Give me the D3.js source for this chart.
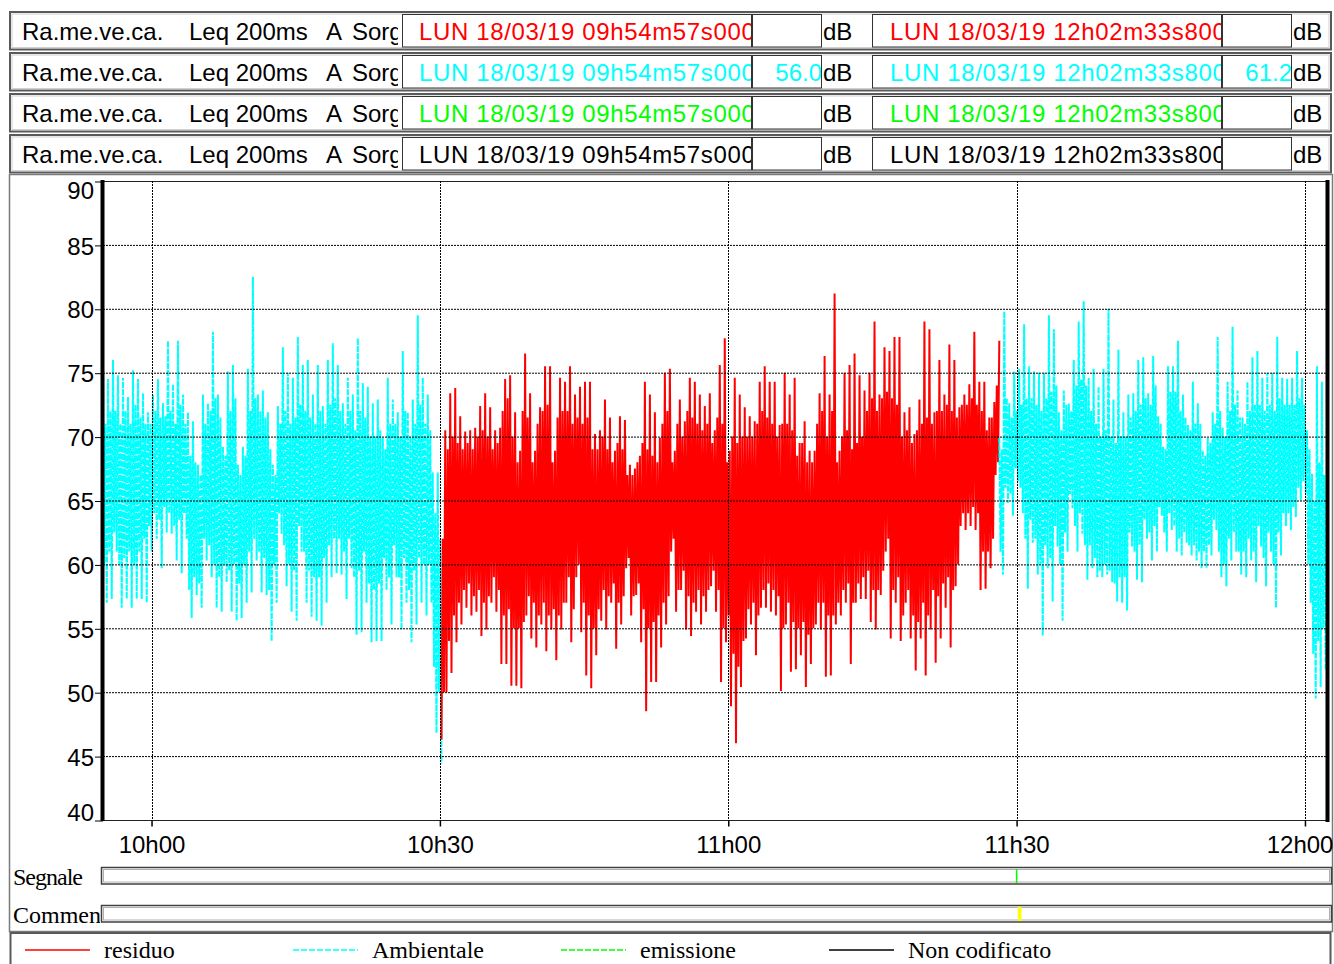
<!DOCTYPE html>
<html><head><meta charset="utf-8">
<script src="https://cdn.jsdelivr.net/npm/d3@7"></script>
<style>body{margin:0;background:#fff} svg{display:block}</style>
</head><body><svg id="c" width="1334" height="964"></svg>
<script>
// ---------- DATA ----------
const recordStart = "09:54:57.000";
const recordEnd = "12:02:33.800";
const headerLabelParts = ["Ra.me.ve.ca.", "Leq 200ms", "A", "Sorg"];
const headerStartText = "LUN 18/03/19 09h54m57s000";
const headerEndText = "LUN 18/03/19 12h02m33s800";
const seriesNames = ["residuo", "Ambientale", "emissione", "Non codificato"];
const seriesColors = ["#ff0000", "#00ffff", "#00ff00", "#000000"];
const headerStartValues = ["", "56.0", "", ""];
const headerEndValues = ["", "61.2", "", ""];
const yTicks = [40, 45, 50, 55, 60, 65, 70, 75, 80, 85, 90];
const xTickTimes = ["10:00:00.000", "10:30:00.000", "11:00:00.000", "11:30:00.000", "12:00:00.000"];
const xTickLabels = ["10h00", "10h30", "11h00", "11h30", "12h00"];
const bandLabels = ["Segnale", "Commento"];
const signalMarks = ["11:30:00.000"];
const commentMarks = [["11:30:07.000", "11:30:30.000"]];

// Ambientale (first part): per interval [peak, trough]
const ambientale1Range = ["09:54:57.000", "10:30:10.000"];
const ambientale1 = [75.8,57.0, 74.5,57.3, 76.0,61.0, 74.8,56.6, 74.6,57.3, 73.1,56.6, 75.2,57.3, 74.5,57.3, 73.4,57.0, 71.9,61.0,
 73.3,62.0, 74.5,59.7, 72.6,62.5, 77.5,62.4, 74.1,60.3, 77.5,59.3, 73.3,62.0, 71.9,55.8, 71.2,57.6, 67.8,56.6,
 73.3,60.3, 72.6,59.0, 78.2,56.6, 73.3,56.3, 69.2,58.6, 75.1,56.3, 75.6,55.6, 67.8,55.8, 69.2,57.0, 75.3,57.8,
 82.5,60.3, 73.3,57.8, 73.6,57.6, 71.9,54.0, 67.8,57.0, 72.4,62.4, 77.0,58.3, 75.0,56.3, 74.6,55.6, 77.8,61.0,
 75.6,57.0, 76.0,55.9, 73.3,55.6, 75.6,55.2, 72.4,57.0, 76.0,59.0, 77.3,59.3, 75.6,59.2, 72.6,57.3, 74.6,59.7,
 73.3,54.5, 77.7,54.7, 74.2,57.0, 73.9,53.9, 72.6,54.0, 72.9,54.0, 69.9,58.0, 74.6,55.3, 72.9,59.0, 71.9,54.9,
 76.7,57.0, 71.9,53.9, 72.9,55.3, 79.5,57.0, 74.6,56.0, 73.3,57.0, 67.2,46.8, 67.2,44.4];
// dense core of the same intervals: [upper core, lower core]
const ambientale1Core = [71,60, 72,61, 72,62.5, 71,60, 72,60.5, 71,61, 72.5,60, 71.5,61, 71,62, 71,63,
 72,64, 71.5,63.5, 71.6,64.5, 72,64, 71,63, 72.5,63.5, 71,64, 68.5,58, 68,59, 67,58.5,
 71,62, 72,61.5, 73,60, 71.5,59, 68.5,60, 72,59.5, 73,60, 67,58.5, 68.5,60, 72,61,
 73,62, 72,61, 71.5,60.5, 69,58, 67,60, 71,64, 72,61.5, 71,60, 71.5,59.5, 72.5,63,
 72,61, 71.5,59.5, 71,59, 72,59, 71,60.5, 72.5,61.5, 73,62, 72,62, 71,61, 72,62,
 70.5,59, 72,59.5, 71.5,61, 70,58.5, 70,58, 70.5,58.5, 69,60.5, 71,59, 71,61.5, 70,59,
 72,60.5, 70,58, 71,59.5, 72.5,60.5, 71,60, 70.5,60, 64,52, 62,50];

// Residuo: per interval [trough, peak]
const residuoRange = ["10:30:10.000", "11:28:12.000"];
const residuo = [46.3,70.5, 50.0,73.4, 51.5,73.8, 53.9,71.6, 55.3,70.4, 56.6,70.5, 56.0,70.7, 56.3,72.4, 54.4,73.4, 54.9,72.3,
 57.0,70.5, 56.3,70.7, 52.2,74.5, 52.2,74.8, 50.5,71.9, 50.5,68.9, 50.3,76.5, 56.0,73.4, 54.2,68.9, 53.5,72.3,
 55.3,75.5, 53.2,75.5, 54.9,68.9, 52.5,74.6, 54.9,74.3, 57.0,75.5, 53.9,73.3, 59.0,73.9, 54.7,74.3, 51.3,74.3,
 50.3,70.2, 52.9,70.5, 55.6,72.9, 54.9,71.5, 57.0,68.9, 53.4,71.6, 55.3,71.3, 59.7,67.8, 56.0,67.5, 57.6,68.5,
 53.9,74.3, 48.5,73.3, 50.8,71.9, 50.8,69.9, 53.5,75.0, 55.3,75.3, 61.0,68.9, 56.3,72.9, 58.0,71.2, 54.9,74.6,
 54.4,74.3, 56.3,73.3, 55.3,72.4, 56.3,73.4, 58.3,70.5, 56.3,75.6, 50.8,77.7, 53.9,68.9, 48.9,74.6, 46.0,73.3,
 50.4,72.3, 54.2,71.6, 55.3,71.2, 52.9,74.3, 56.6,75.5, 56.6,74.3, 56.3,74.3, 56.0,70.9, 50.1,75.0, 55.3,73.3,
 51.6,74.6, 51.8,69.5, 52.9,71.2, 50.4,68.9, 52.2,68.9, 55.3,73.4, 54.9,76.3, 51.2,73.3, 51.3,81.2, 55.3,68.9,
 56.0,75.0, 57.0,75.6, 52.2,76.5, 57.0,74.8, 57.3,73.6, 57.3,75.0, 55.5,79.0, 54.9,73.3, 57.6,77.0, 61.0,76.7,
 54.2,77.8, 57.0,77.8, 54.0,71.9, 57.0,72.3, 54.2,70.2, 51.7,72.9, 54.2,79.0, 51.3,78.4, 54.9,71.9, 52.3,76.0,
 54.2,73.3, 56.6,77.2, 53.5,76.0, 58.3,72.3, 63.0,73.3, 62.7,74.1, 63.0,78.2, 62.7,74.3, 58.0,74.3, 58.1,71.5,
 59.7,72.7, 67.0,77.5];
// dense core: [lower core, upper core]
const residuoCore = [50,62, 54,69, 56,70, 57,69.5, 58,69, 58.5,69.5, 57.5,69, 58,70, 57,70.5, 57.5,70,
 59,69, 58,69.5, 56,72, 56.5,73, 55,70, 55,68, 55.5,72, 57.5,71.5, 57,68, 56,71,
 57,72, 56,72.5, 56.5,68, 56,71.5, 57,72, 59,72, 56.5,71, 60,71.5, 57,71, 56,71.5,
 55,69, 56.5,69, 58,70, 57.5,69, 58.5,68, 57,69.5, 57.5,69, 60.5,67, 57.5,67, 58.5,68,
 56.5,69.5, 55,69, 55.5,68.5, 56,68, 57,71, 57.5,72, 62,68, 58,71, 59.5,70, 57.5,72,
 57,71.5, 58,71, 57.5,70.5, 58,71, 59.5,69.5, 58,71.5, 55,71, 56,68, 53,70, 52,69.5,
 54,70, 56.5,70, 57,70, 56,71, 58,72, 58.5,71.5, 58,71, 57.5,70, 55,71, 57,71,
 55.5,70.5, 55,68.5, 55.5,69.5, 54.5,68, 55,68, 57,71, 57,72, 56,70, 56,72, 57,68,
 58,70, 58.5,70.5, 57,69, 58.5,69.5, 59,70, 59.5,72, 58,73, 58,72, 59.5,73, 62,73.5,
 58,73, 59,72.5, 56,70, 58,70.5, 56,69.5, 55.5,70.5, 57,71, 56,71.5, 58,71, 57.5,72,
 58.5,72, 59,72.5, 58,72, 60,71.5, 64,72.5, 64,72.5, 64.5,73, 64,72.5, 61,72, 61,70.5,
 62,71.5, 68,74];

// Ambientale (second part): per interval [peak, trough]
const ambientale2Range = ["11:28:12.000", "12:02:09.000"];
const ambientale2 = [69.9,59.2, 79.8,64.8, 72.6,63.8, 75.1,66.5, 75.3,64.0, 78.8,58.1, 75.5,61.7, 75.1,59.2, 75.0,54.4, 75.0,59.7,
 79.5,57.1, 78.4,61.4, 71.9,55.6, 73.6,61.0, 72.6,64.4, 76.0,61.0, 79.0,62.4, 80.6,58.8, 74.6,59.7, 75.3,59.0,
 73.9,59.0, 75.3,59.2, 80.0,58.6, 72.9,57.1, 76.8,57.0, 71.9,56.4, 73.3,61.4, 73.4,58.8, 76.0,58.6, 76.2,62.0,
 73.4,60.3, 76.3,61.0, 71.6,63.8, 69.2,61.0, 75.5,62.7, 75.5,61.0, 77.5,60.7, 73.3,61.7, 70.9,60.7, 74.3,60.3,
 72.6,59.7, 68.9,59.7, 69.9,60.7, 71.9,62.7, 77.8,59.0, 70.7,58.3, 74.3,60.3, 78.6,61.0, 73.6,59.2, 71.5,59.0,
 74.3,60.3, 76.2,58.6, 76.7,61.4, 74.6,58.3, 75.0,61.0, 75.0,56.6, 77.8,60.7, 74.6,63.0, 74.5,62.7, 74.6,63.7,
 76.7,65.0, 74.6,65.6, 70.5,57.0, 67.1,49.5, 75.5,50.4, 74.3,51.8];
const ambientale2Core = [69,61, 73,66, 71.5,65.5, 72,67.5, 72.5,66, 73,62, 73,63.5, 72.5,62, 72,60, 73,61.5,
 73.5,60.5, 74,63, 70.5,60, 72.5,62.5, 72,65.5, 74,63, 74.5,64, 74,61.5, 72,61.5, 71,60.5,
 70,59.5, 70.5,60, 70,59.5, 69.5,58.5, 70,59, 70,59, 71.5,62.5, 72,61, 72.5,61.5, 73,63.5,
 72.5,62.5, 74,63, 71,64.5, 69,62.5, 73.5,64, 73.5,63, 72,62, 71.5,62.5, 70.5,61.5, 71,61.5,
 71,61, 68.5,61, 69.5,61.5, 71,63.5, 72,61, 70,60, 72,62, 72.5,62.5, 71.5,61, 71,61,
 72,62, 72.5,61, 72.5,63, 72,60.5, 72.5,62.5, 72,60, 73,62.5, 72.5,64, 72.5,64, 72.5,64.5,
 73,66, 72.5,66.5, 69,60, 65,53, 68,54, 67,55];

// ---------- HELPERS ----------
function t(s) {
  const [h, m, rest] = s.split(":");
  const [sec, ms] = rest.split(".");
  return new Date(2019, 2, 18, +h, +m, +sec, +ms);
}
// sequence inside each interval: outer[0], core[1], core[0], outer[1]
function weave(outer, core) {
  const out = [];
  for (let k = 0; k < outer.length; k += 2) out.push(outer[k], core[k + 1], core[k], outer[k + 1]);
  return out;
}
function buildSeries(range, values) {
  const t0 = +t(range[0]), t1 = +t(range[1]), n = values.length;
  return values.map((v, i) => ({ time: new Date(t0 + (t1 - t0) * i / (n - 1)), value: v }));
}

const SANS = "'Liberation Sans', Arial, sans-serif";
const SERIF = "'Liberation Serif', 'Times New Roman', serif";
const svg = d3.select("#c");
const defs = svg.append("defs");

// ---------- HEADER ----------
const clipDefs = [["clipLabel", 10, 388], ["clipStart", 403, 348], ["clipEnd", 873, 348], ["clipV1", 753, 68], ["clipV2", 1223, 68]];
clipDefs.forEach(([id, cx, cw]) => {
  defs.append("clipPath").attr("id", id).attr("clipPathUnits", "userSpaceOnUse")
    .append("rect").attr("x", cx).attr("y", 0).attr("width", cw).attr("height", 37);
});

seriesColors.forEach((col, i) => {
  const top = 12 + i * 41;
  const g = svg.append("g").attr("transform", `translate(0,${top})`);
  g.append("rect").attr("x", 10).attr("y", 0).attr("width", 1321).attr("height", 37.5)
    .attr("fill", "#fff").attr("stroke", "#5a5a5a").attr("stroke-width", 2);
  g.append("rect").attr("x", 12).attr("y", 2).attr("width", 1317).attr("height", 33.5)
    .attr("fill", "none").attr("stroke", "#d0d0d0").attr("stroke-width", 1);
  [[402.5, 349], [752.5, 69], [872.5, 349], [1222.5, 69]].forEach(([bx, bw]) => {
    g.append("rect").attr("x", bx).attr("y", 2.5).attr("width", bw).attr("height", 32.5)
      .attr("fill", "#fff").attr("stroke", "#333").attr("stroke-width", 1);
  });
  const lab = g.append("g").attr("clip-path", "url(#clipLabel)")
    .attr("font-family", SANS).attr("font-size", 24).attr("fill", "#000");
  [22, 189, 326, 352].forEach((px, k) => {
    lab.append("text").attr("x", px).attr("y", 28).text(headerLabelParts[k]);
  });
  g.append("text").attr("clip-path", "url(#clipStart)").attr("x", 419).attr("y", 28)
    .attr("font-family", SANS).attr("font-size", 24).attr("letter-spacing", 0.65).attr("fill", col).text(headerStartText);
  g.append("text").attr("clip-path", "url(#clipEnd)").attr("x", 890).attr("y", 28)
    .attr("font-family", SANS).attr("font-size", 24).attr("letter-spacing", 0.65).attr("fill", col).text(headerEndText);
  g.append("text").attr("clip-path", "url(#clipV1)").attr("x", 822).attr("y", 28).attr("text-anchor", "end")
    .attr("font-family", SANS).attr("font-size", 24).attr("fill", col).text(headerStartValues[i]);
  g.append("text").attr("clip-path", "url(#clipV2)").attr("x", 1292).attr("y", 28).attr("text-anchor", "end")
    .attr("font-family", SANS).attr("font-size", 24).attr("fill", col).text(headerEndValues[i]);
  g.append("text").attr("x", 823).attr("y", 28).attr("font-family", SANS).attr("font-size", 24).text("dB");
  g.append("text").attr("x", 1293).attr("y", 28).attr("font-family", SANS).attr("font-size", 24).text("dB");
});

// ---------- PANEL FRAME ----------
svg.append("rect").attr("x", 9.5).attr("y", 174.5).attr("width", 1323).attr("height", 757)
  .attr("fill", "none").attr("stroke", "#7a7a7a").attr("stroke-width", 1.5);

// ---------- SCALES ----------
const x = d3.scaleTime().domain([t(recordStart), t(recordEnd)]).range([103, 1329.6]);
const y = d3.scaleLinear().domain([40, 90]).range([820, 181]);
const line = d3.line().x(d => x(d.time)).y(d => y(d.value));

// ---------- DATA LINES ----------
const plot = svg.append("g");
plot.append("path").datum(buildSeries(ambientale1Range, weave(ambientale1, ambientale1Core))).attr("d", line)
  .attr("fill", "none").attr("stroke", seriesColors[1]).attr("stroke-width", 2).attr("stroke-dasharray", "6,1.2");
plot.append("path").datum(buildSeries(residuoRange, weave(residuo, residuoCore))).attr("d", line)
  .attr("fill", "none").attr("stroke", seriesColors[0]).attr("stroke-width", 2);
plot.append("path").datum(buildSeries(ambientale2Range, weave(ambientale2, ambientale2Core))).attr("d", line)
  .attr("fill", "none").attr("stroke", seriesColors[1]).attr("stroke-width", 2).attr("stroke-dasharray", "6,1.2");

// ---------- GRID ----------
const grid = svg.append("g");
yTicks.forEach(v => {
  const solid = (v === 40 || v === 90);
  grid.append("line").attr("x1", 103).attr("x2", 1327).attr("y1", y(v) + 0.5).attr("y2", y(v) + 0.5)
    .attr("stroke", solid ? "#222" : "#000").attr("stroke-width", 1)
    .attr("stroke-dasharray", solid ? null : "2,1");
});
xTickTimes.forEach(s => {
  const xx = Math.round(x(t(s))) + 0.5;
  grid.append("line").attr("x1", xx).attr("x2", xx).attr("y1", 181).attr("y2", 820)
    .attr("stroke", "#000").attr("stroke-width", 1).attr("stroke-dasharray", "2,1");
});

// ---------- AXES ----------
const yAxis = svg.append("g").attr("transform", "translate(103,0.5)")
  .call(d3.axisLeft(y).tickValues(yTicks).tickSize(8).tickPadding(1).tickFormat(d3.format("d")));
yAxis.select(".domain").remove();
yAxis.selectAll("text").attr("font-family", SANS).attr("font-size", 24).attr("fill", "#000")
  .attr("dy", d => d === 90 ? "0.72em" : d === 40 ? "-0.02em" : "0.36em");
yAxis.selectAll("line").attr("stroke", "#000");

const xAxis = svg.append("g").attr("transform", "translate(0,820.5)")
  .call(d3.axisBottom(x).tickValues(xTickTimes.map(t)).tickSize(6).tickPadding(9)
    .tickFormat((d, i) => xTickLabels[i]));
xAxis.select(".domain").remove();
xAxis.selectAll("text").attr("font-family", SANS).attr("font-size", 24).attr("fill", "#000")
  .attr("text-anchor", (d, i) => i === xTickLabels.length - 1 ? "end" : "middle")
  .attr("dx", (d, i) => i === xTickLabels.length - 1 ? 28 : 0);
xAxis.selectAll("line").attr("stroke", "#000").attr("stroke-width", 1.5);

// thick start / end lines (non codificato)
svg.append("line").attr("x1", x(t(recordStart)) - 0.5).attr("x2", x(t(recordStart)) - 0.5)
  .attr("y1", 180).attr("y2", 821).attr("stroke", "#000").attr("stroke-width", 4);
svg.append("line").attr("x1", 1327.5).attr("x2", 1327.5).attr("y1", 180).attr("y2", 822)
  .attr("stroke", "#000").attr("stroke-width", 4);

// ---------- SIGNAL / COMMENT BANDS ----------
[867, 905].forEach((by, k) => {
  defs.append("clipPath").attr("id", "bandclip" + k).append("rect").attr("x", 10).attr("y", by - 5).attr("width", 90).attr("height", 30);
  svg.append("text").attr("clip-path", `url(#bandclip${k})`).attr("x", 13).attr("y", by + 18)
    .attr("font-family", SERIF).attr("font-size", 24).attr("letter-spacing", k === 0 ? -1 : 0).text(bandLabels[k]);
  svg.append("rect").attr("x", 101.5).attr("y", by + 0.5).attr("width", 1230).attr("height", 16.5)
    .attr("fill", "#fff").attr("stroke", "#404040").attr("stroke-width", 1.5);
  svg.append("rect").attr("x", 103.5).attr("y", by + 2.5).attr("width", 1226).attr("height", 12.5)
    .attr("fill", "none").attr("stroke", "#b0b0b0").attr("stroke-width", 1);
});
signalMarks.forEach(s => {
  svg.append("line").attr("x1", x(t(s))).attr("x2", x(t(s))).attr("y1", 869).attr("y2", 883)
    .attr("stroke", "#00ff00").attr("stroke-width", 1.5);
});
commentMarks.forEach(([a, b]) => {
  svg.append("rect").attr("x", x(t(a))).attr("y", 907).attr("width", x(t(b)) - x(t(a))).attr("height", 14)
    .attr("fill", "#ffff00");
});

// ---------- LEGEND ----------
svg.append("rect").attr("x", 10.5).attr("y", 933).attr("width", 1320).attr("height", 40)
  .attr("fill", "#fff").attr("stroke", "#5a5a5a").attr("stroke-width", 2);
const dashes = [null, "6,2", "6,2", null];
seriesNames.forEach((name, i) => {
  const lx = 25 + i * 268;
  svg.append("line").attr("x1", lx).attr("x2", lx + 65).attr("y1", 950).attr("y2", 950)
    .attr("stroke", seriesColors[i]).attr("stroke-width", 1.5).attr("stroke-dasharray", dashes[i]);
  svg.append("text").attr("x", lx + 79).attr("y", 958).attr("font-family", SERIF).attr("font-size", 24)
    .text(name);
});
</script></body></html>
